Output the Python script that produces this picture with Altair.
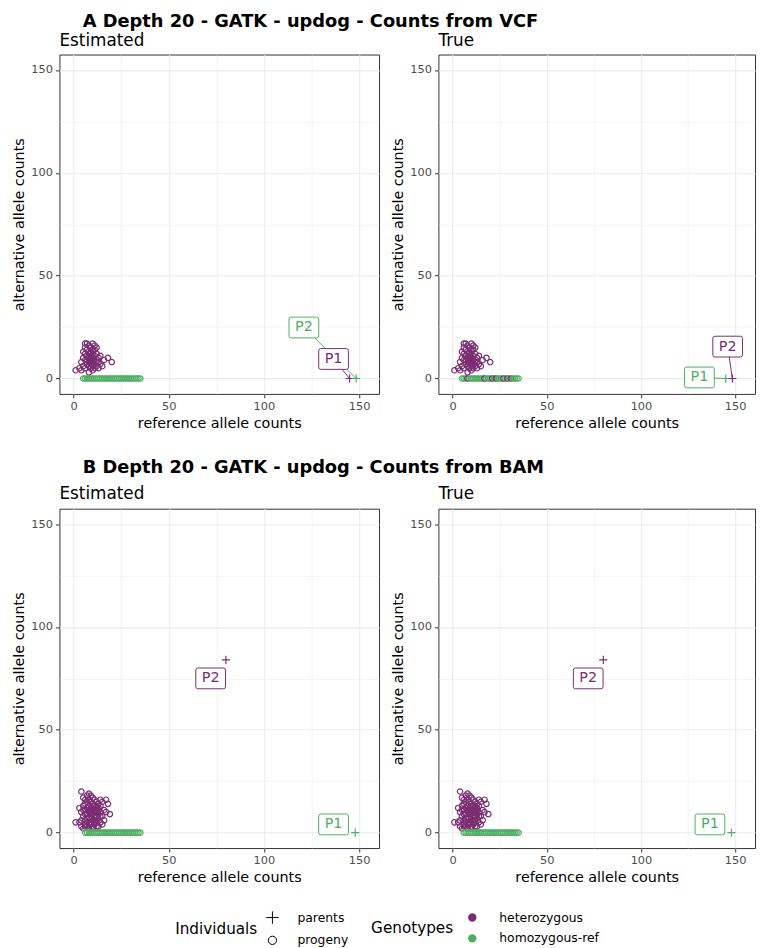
import altair as alt
import pandas as pd

PURPLE = "#7B2D72"
GREEN = "#4EAF62"
GENO = ["heterozygous", "homozygous-ref"]
GENO_COL = [PURPLE, GREEN]
KINDS = ["parents", "progeny"]
PLUS = "M-1.5,0H1.5M0,-1.5V1.5"
BOX = ("M-1.23,-1H1.23Q1.43,-1 1.43,-0.8V0.8Q1.43,1 1.23,1H-1.23"
       "Q-1.43,1 -1.43,0.8V-0.8Q-1.43,-1 -1.23,-1Z")

# ---------------- Panel A : counts from VCF ----------------
a_het_ref = [1, 3, 4, 5, 6, 4, 5, 6, 7, 6, 7, 8, 9, 10, 11, 12, 11, 9, 8, 10,
             7, 9, 11, 12, 13, 8, 10, 6, 7, 9, 11, 12, 13, 8, 10, 7, 9, 11, 14, 8,
             10, 12, 9, 11, 10, 8, 13, 15, 18, 20, 16, 6, 5, 14, 10]
a_het_alt = [4, 5, 4, 6, 5, 8, 10, 12, 14, 17, 17, 16, 15, 17, 16, 15, 14, 13, 12, 12,
             11, 11, 11, 12, 10, 10, 10, 9, 9, 9, 9, 8, 8, 8, 8, 7, 7, 7, 7, 6,
             6, 6, 5, 5, 4, 3, 5, 6, 10, 8, 9, 15, 13, 11, 14]
a_hom_ref = [5, 6, 7, 8, 9, 10, 11, 12, 13, 14, 15, 16, 17, 18, 19, 20, 21, 22, 23,
             24, 25, 26, 27, 28, 29, 30, 31, 32, 33, 34, 35]
# zero-alt progeny whose true genotype is heterozygous
a_true_het_zero = [8, 17, 21, 23, 27, 29, 31]

a_par_name = ["P1", "P2"]
a_par_ref = [145, 148.5]
a_par_alt = [0, 0]
a_par_est = ["heterozygous", "homozygous-ref"]
a_par_true = ["homozygous-ref", "heterozygous"]
a_lab_est_ref = [136.6, 121]
a_lab_est_alt = [9.5, 24.8]
a_lab_true_ref = [131, 146]
a_lab_true_alt = [0.5, 15.5]

# ---------------- Panel B : counts from BAM ----------------
b_het_ref = [1, 3, 4, 5, 6, 4, 8, 7, 9, 5, 6, 8, 10, 11, 12, 14, 15, 17, 18, 19,
             16, 17, 15, 16, 3, 4, 5, 6, 7, 9, 10, 11, 12, 13, 14, 6, 7, 8, 9, 10,
             11, 12, 13, 14, 5, 6, 7, 8, 9, 10, 11, 12, 13, 14, 4, 6, 7, 8, 9, 10,
             11, 12, 13, 14, 15, 6, 8, 9, 10, 11, 12, 13, 7, 9, 11, 12, 8, 10, 7, 5,
             13, 10, 9, 8, 11, 12]
b_het_alt = [5, 5, 3, 2, 3, 20, 19, 18, 18, 17, 16, 16, 17, 16, 15, 16, 15, 16, 14, 9,
             11, 10, 8, 6, 12, 10, 13, 14, 15, 15, 14, 13, 13, 14, 13, 11, 12, 13, 12, 11,
             11, 10, 11, 10, 8, 9, 9, 10, 9, 9, 8, 8, 9, 8, 6, 6, 7, 7, 7, 6,
             6, 6, 7, 5, 4, 4, 4, 4, 3, 4, 3, 3, 5, 5, 5, 5, 2, 2, 3, 11,
             12, 13, 10, 11, 10, 11]
b_hom_ref = [6, 7, 8, 9, 10, 11, 12, 13, 14, 15, 16, 17, 18, 19, 20, 21, 22, 23, 24,
             25, 26, 27, 28, 29, 30, 31, 32, 33, 34, 35]

b_par_name = ["P1", "P2"]
b_par_ref = [148, 80]
b_par_alt = [0, 84]
b_par_geno = ["homozygous-ref", "heterozygous"]
b_lab_ref = [136.6, 72]
b_lab_alt = [4, 75]


def points_df(het_ref, het_alt, hom_ref, par_ref, par_alt, par_geno, hom_true_het=()):
    rows = []
    for r, a in zip(het_ref, het_alt):
        rows.append({"ref": r, "alt": a, "geno": "heterozygous", "kind": "progeny"})
    for r in hom_ref:
        g = "heterozygous" if r in hom_true_het else "homozygous-ref"
        rows.append({"ref": r, "alt": 0, "geno": g, "kind": "progeny"})
    for r, a, g in zip(par_ref, par_alt, par_geno):
        rows.append({"ref": r, "alt": a, "geno": g, "kind": "parents"})
    return pd.DataFrame(rows)


def labels_df(names, par_ref, par_alt, geno, lab_ref, lab_alt, seg):
    return pd.DataFrame({"name": names, "ref": par_ref, "alt": par_alt, "geno": geno,
                         "lx": lab_ref, "ly": lab_alt, "seg": seg})


TICKS = [0, 25, 50, 75, 100, 125, 150]
MINOR = "datum.value % 50 !== 0"


def axis(title):
    return alt.Axis(
        title=title, values=TICKS, grid=True, domain=False,
        labelExpr="datum.value % 50 === 0 ? datum.label : ''",
        tickColor={"condition": {"test": MINOR, "value": "transparent"}, "value": "#333333"},
        gridWidth={"condition": {"test": MINOR, "value": 0.55}, "value": 1.1},
        gridColor="#EBEBEB", tickSize=4, labelPadding=3, titlePadding=4,
        labelFontSize=11.5, labelColor="#4D4D4D", titleFontSize=14.5,
        titleFontWeight="normal", titleColor="black", labelFlush=False)


def xs(field):
    return alt.X(field, type="quantitative",
                 scale=alt.Scale(domain=[-7.5, 160.5], nice=False, zero=False),
                 axis=axis("reference allele counts"))


def ys(field):
    return alt.Y(field, type="quantitative",
                 scale=alt.Scale(domain=[-7.5, 157.5], nice=False, zero=False),
                 axis=axis("alternative allele counts"))


col_scale = alt.Scale(domain=GENO, range=GENO_COL)

shape_legend = alt.Legend(
    title="Individuals", orient="none", legendX=117, legendY=866, direction="vertical",
    titleOrient="left", titleAnchor="middle", titleBaseline="middle",
    titleFontSize=15.4, titleFontWeight="normal", titleColor="black", titlePadding=9,
    labelFontSize=12.5, labelColor="black", labelOffset=19, symbolSize=70,
    symbolStrokeColor="black", symbolFillColor="transparent", symbolStrokeWidth=1,
    rowPadding=8)
fill_legend = alt.Legend(
    title="Genotypes", orient="none", legendX=315, legendY=866, direction="vertical",
    titleOrient="left", titleAnchor="middle", titleBaseline="middle",
    titleFontSize=15.4, titleFontWeight="normal", titleColor="black", titlePadding=13,
    labelFontSize=12.5, labelColor="black", labelOffset=21, symbolSize=72,
    symbolStrokeWidth=0, symbolType="circle", rowPadding=8)


def panel(pts, labs, title, width, toff):
    p = alt.Chart(pts).mark_point(filled=False, size=30, strokeWidth=1.2, opacity=1).encode(
        x=xs("ref"), y=ys("alt"),
        color=alt.Color("geno:N", scale=col_scale, legend=None),
        shape=alt.Shape("kind:N", scale=alt.Scale(domain=KINDS, range=[PLUS, "circle"]),
                        legend=shape_legend))
    seg = alt.Chart(labs).transform_filter("datum.seg").mark_rule(strokeWidth=1).encode(
        x=xs("lx"), y=ys("ly"), x2="ref:Q", y2="alt:Q",
        color=alt.Color("geno:N", scale=col_scale, legend=None))
    box = alt.Chart(labs).mark_point(shape=BOX, size=441, filled=True, fill="white",
                                     strokeWidth=1, opacity=1).encode(
        x=xs("lx"), y=ys("ly"),
        stroke=alt.Stroke("geno:N", scale=col_scale, legend=None))
    txt = alt.Chart(labs).mark_text(fontSize=14.5, font="DejaVu Sans").encode(
        x=xs("lx"), y=ys("ly"), text="name:N",
        fill=alt.Fill("geno:N", scale=alt.Scale(range=GENO_COL), legend=fill_legend))
    return alt.layer(p, seg, box, txt).properties(
        width=width, height=343,
        title=alt.TitleParams(title, anchor="start", frame="group", fontSize=17,
                              fontWeight="normal", color="black", offset=toff))


a_est = panel(points_df(a_het_ref, a_het_alt, a_hom_ref, a_par_ref, a_par_alt, a_par_est),
              labels_df(a_par_name, a_par_ref, a_par_alt, a_par_est,
                        a_lab_est_ref, a_lab_est_alt, [True, True]), "Estimated", 323, 5)
a_true = panel(points_df(a_het_ref, a_het_alt, a_hom_ref, a_par_ref, a_par_alt, a_par_true,
                         a_true_het_zero),
               labels_df(a_par_name, a_par_ref, a_par_alt, a_par_true,
                         a_lab_true_ref, a_lab_true_alt, [True, True]), "True", 320, 5)
b_est = panel(points_df(b_het_ref, b_het_alt, b_hom_ref, b_par_ref, b_par_alt, b_par_geno),
              labels_df(b_par_name, b_par_ref, b_par_alt, b_par_geno,
                        b_lab_ref, b_lab_alt, [False, False]), "Estimated", 323, 6)
b_true = panel(points_df(b_het_ref, b_het_alt, b_hom_ref, b_par_ref, b_par_alt, b_par_geno),
               labels_df(b_par_name, b_par_ref, b_par_alt, b_par_geno,
                         b_lab_ref, b_lab_alt, [False, False]), "True", 320, 6)


def row_title(t, off):
    return alt.TitleParams(t, anchor="start", dx=72, fontSize=18, fontWeight="bold",
                           color="black", offset=off)


row_a = alt.hconcat(a_est, a_true, spacing=10).properties(
    title=row_title("A Depth 20 - GATK - updog - Counts from VCF", 0))
row_b = alt.hconcat(b_est, b_true, spacing=10).properties(
    title=row_title("B Depth 20 - GATK - updog - Counts from BAM", 8))

chart = alt.vconcat(row_a, row_b, spacing=28).properties(
    padding={"left": 3, "top": 0, "right": 0, "bottom": 0}
).configure(font="DejaVu Sans").configure_view(stroke="#333333", strokeWidth=1)

chart.save("out.html", embed_options={"renderer": "svg", "actions": False})
